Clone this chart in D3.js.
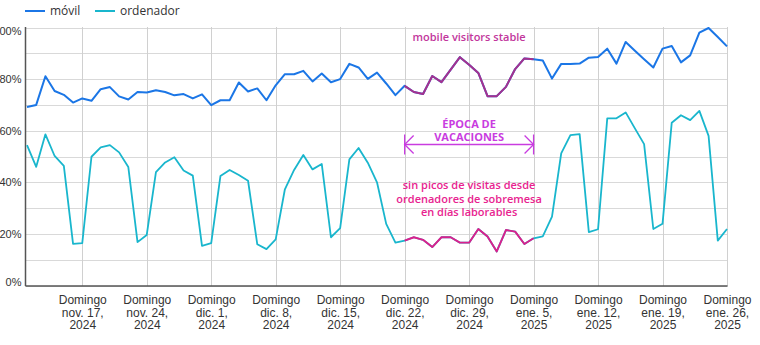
<!DOCTYPE html>
<html>
<head>
<meta charset="utf-8">
<script src="https://cdn.jsdelivr.net/npm/d3@7/dist/d3.min.js"></script>
<style>
  html, body { margin: 0; padding: 0; background: #fff; }
  svg { display: block; font-family: "Open Sans", "Noto Sans", sans-serif; }
</style>
</head>
<body>
<svg id="chart" width="760" height="345"></svg>
<script>
// Daily share of visits by device, Nov 11 2024 – Jan 26 2025
const startDay = new Date(2024, 10, 11);
const movil = [
  69.2, 70.0, 81.1, 75.4, 73.9, 70.9, 72.5, 71.6, 76.1, 76.9,
  73.3, 72.1, 75.0, 74.8, 75.7, 75.0, 73.7, 74.2, 72.5, 74.1,
  69.9, 71.8, 71.8, 78.7, 75.2, 76.4, 71.8, 77.6, 81.9, 81.9,
  83.2, 79.1, 82.2, 78.8, 80.0, 85.9, 84.5, 80.1, 82.5, 78.3,
  73.8, 77.4, 75.0, 74.2, 81.2, 78.8, 83.7, 88.5, 85.6, 82.4,
  73.4, 73.4, 77.0, 83.9, 88.0, 87.7, 87.2, 80.2, 85.9, 85.9,
  86.0, 88.3, 88.6, 91.8, 86.0, 94.4, 91.0, 87.7, 84.5, 91.8,
  92.8, 86.5, 89.2, 98.0, 99.8, 96.3, 92.7
];
const ordenador = [
  54.4, 46.0, 58.6, 50.2, 46.4, 16.1, 16.4, 49.9, 53.5, 54.4,
  51.6, 45.9, 16.8, 19.6, 43.9, 47.7, 49.7, 44.6, 42.6, 15.4,
  16.4, 42.4, 44.8, 42.8, 40.6, 16.0, 14.1, 17.9, 37.3, 44.8,
  50.6, 45.0, 47.1, 18.7, 22.2, 48.9, 53.3, 47.6, 40.0, 23.9,
  16.6, 17.4, 18.7, 17.7, 14.9, 18.7, 18.7, 16.6, 16.6, 21.9,
  19.0, 13.2, 21.5, 20.9, 16.1, 18.3, 19.0, 26.7, 51.2, 58.3,
  58.7, 20.7, 21.8, 64.8, 64.8, 67.1, 60.9, 54.8, 21.9, 23.9,
  63.1, 66.0, 64.1, 67.7, 58.0, 17.4, 21.9
];
const dates = movil.map((_, i) => d3.timeDay.offset(startDay, i));

// Sunday ticks and their three-line labels
const tickDates = [
  new Date(2024, 10, 17), new Date(2024, 10, 24), new Date(2024, 11, 1),
  new Date(2024, 11, 8), new Date(2024, 11, 15), new Date(2024, 11, 22),
  new Date(2024, 11, 29), new Date(2025, 0, 5), new Date(2025, 0, 12),
  new Date(2025, 0, 19), new Date(2025, 0, 26)
];
const tickLabels = [
  ["Domingo", "nov. 17,", "2024"], ["Domingo", "nov. 24,", "2024"],
  ["Domingo", "dic. 1,", "2024"], ["Domingo", "dic. 8,", "2024"],
  ["Domingo", "dic. 15,", "2024"], ["Domingo", "dic. 22,", "2024"],
  ["Domingo", "dic. 29,", "2024"], ["Domingo", "ene. 5,", "2025"],
  ["Domingo", "ene. 12,", "2025"], ["Domingo", "ene. 19,", "2025"],
  ["Domingo", "ene. 26,", "2025"]
];
const yTicks = [0, 20, 40, 60, 80, 100];
const yGrid = [0, 10, 20, 30, 40, 50, 60, 70, 80, 90, 100];

// Holiday window highlighted on both series
const holidayStart = new Date(2024, 11, 22);
const holidayEnd = new Date(2025, 0, 5);

const seriesNames = ["móvil", "ordenador"];
const colors = {
  movil: "#1b76e6",
  ordenador: "#19b6cd",
  movilHi: "#a6318e",
  ordenadorHi: "#dc1f8c",
  movilNote: "#c2369c",
  ordenadorNote: "#e8238f",
  holiday: "#c93ce0"
};

const svg = d3.select("#chart");
const plot = { left: 25.5, right: 727.5, top: 27, bottom: 286 };

const x = d3.scaleTime()
  .domain([startDay, dates[dates.length - 1]])
  .range([27, 727]);
const y = d3.scaleLinear().domain([0, 100]).range([285.5, 27.5]);

// grid
const grid = svg.append("g");
grid.selectAll("line.h").data(yGrid).join("line")
  .attr("x1", plot.left).attr("x2", plot.right)
  .attr("y1", d => Math.round(y(d)) + 0.5).attr("y2", d => Math.round(y(d)) + 0.5)
  .attr("stroke", "#d9d9d9").attr("stroke-width", 1);
grid.selectAll("line.v").data(tickDates).join("line")
  .attr("x1", d => Math.round(x(d)) + 0.5).attr("x2", d => Math.round(x(d)) + 0.5)
  .attr("y1", plot.top).attr("y2", plot.bottom)
  .attr("stroke", "#d0d0d0").attr("stroke-width", 1);

// axes
const xAxis = d3.axisBottom(x).tickValues(tickDates).tickSize(0).tickFormat(() => "");
const gx = svg.append("g").attr("transform", `translate(0,${plot.bottom})`).call(xAxis);
gx.select(".domain").attr("stroke", "#555").attr("stroke-width", 1.5)
  .attr("d", `M${plot.left},0H${plot.right}`);
gx.selectAll(".tick").each(function (d, i) {
  const t = d3.select(this).select("text")
    .attr("y", 0).attr("dy", null)
    .attr("fill", "#333").attr("font-size", 12).attr("text-anchor", "middle");
  t.text(null);
  tickLabels[i].forEach((line, k) => {
    t.append("tspan").attr("x", 0).attr("y", 18 + k * 12.6).text(line);
  });
});

const yAxis = d3.axisLeft(y).tickValues(yTicks).tickSize(0).tickFormat(d => d + "%");
const gy = svg.append("g").attr("transform", `translate(${plot.left},0)`).call(yAxis);
gy.select(".domain").attr("stroke", "#555").attr("stroke-width", 1.5)
  .attr("d", `M0,${plot.top}V${plot.bottom}`);
gy.selectAll(".tick").each(function (d) {
  const ty = y(d);
  const clamped = Math.max(plot.top + 4, Math.min(plot.bottom - 4, ty));
  d3.select(this).select("text")
    .attr("x", -4).attr("y", clamped - ty)
    .attr("fill", "#333").attr("font-size", 11);
});

// lines
const line = d3.line().x(d => x(d.date)).y(d => y(d.v));
const toPts = arr => arr.map((v, i) => ({ date: dates[i], v }));
const inHoliday = p => p.date >= holidayStart && p.date <= holidayEnd;

const movilPts = toPts(movil);
const ordPts = toPts(ordenador);

svg.append("path").datum(ordPts)
  .attr("d", line).attr("fill", "none")
  .attr("stroke", colors.ordenador).attr("stroke-width", 1.8)
  .attr("stroke-linejoin", "round");
svg.append("path").datum(ordPts.filter(inHoliday))
  .attr("d", line).attr("fill", "none")
  .attr("stroke", colors.ordenadorHi).attr("stroke-width", 1.9)
  .attr("stroke-linejoin", "round");

svg.append("path").datum(movilPts)
  .attr("d", line).attr("fill", "none")
  .attr("stroke", colors.movil).attr("stroke-width", 2)
  .attr("stroke-linejoin", "round");
svg.append("path").datum(movilPts.filter(inHoliday))
  .attr("d", line).attr("fill", "none")
  .attr("stroke", colors.movilHi).attr("stroke-width", 2)
  .attr("stroke-linejoin", "round");

// legend
const legend = svg.append("g").attr("font-size", 12).attr("fill", "#333");
const legendItems = [
  { name: seriesNames[0], color: colors.movil, x0: 25 },
  { name: seriesNames[1], color: colors.ordenador, x0: 95 }
];
legendItems.forEach(it => {
  legend.append("line").attr("x1", it.x0).attr("x2", it.x0 + 20)
    .attr("y1", 11).attr("y2", 11).attr("stroke", it.color).attr("stroke-width", 2);
  legend.append("text").attr("x", it.x0 + 25).attr("y", 15).text(it.name);
});

// annotations
const midHoliday = (x(holidayStart) + x(holidayEnd)) / 2;
svg.append("text").attr("x", midHoliday).attr("y", 41)
  .attr("text-anchor", "middle").attr("font-size", 11).attr("font-weight", 600)
  .attr("fill", colors.movilNote).text("mobile visitors stable");

const hol = svg.append("g").attr("fill", colors.holiday)
  .attr("text-anchor", "middle").attr("font-size", 11).attr("font-weight", 700);
hol.append("text").attr("x", midHoliday).attr("y", 128).text("ÉPOCA DE");
hol.append("text").attr("x", midHoliday).attr("y", 141).text("VACACIONES");
const ax0 = x(holidayStart), ax1 = x(holidayEnd), ay = 144.5;
const arrow = svg.append("g").attr("stroke", colors.holiday).attr("stroke-width", 1.3).attr("fill", "none");
arrow.append("line").attr("x1", ax0).attr("x2", ax1).attr("y1", ay).attr("y2", ay);
arrow.append("line").attr("x1", ax0).attr("x2", ax0).attr("y1", ay - 10).attr("y2", ay + 10);
arrow.append("line").attr("x1", ax1).attr("x2", ax1).attr("y1", ay - 10).attr("y2", ay + 10);
arrow.append("path").attr("d", `M${ax0 + 9},${ay - 9}L${ax0},${ay}L${ax0 + 9},${ay + 9}`);
arrow.append("path").attr("d", `M${ax1 - 9},${ay - 9}L${ax1},${ay}L${ax1 - 9},${ay + 9}`);

const note = svg.append("g").attr("fill", colors.ordenadorNote)
  .attr("font-size", 11).attr("font-weight", 600).attr("text-anchor", "middle");
["sin picos de visitas desde", "ordenadores de sobremesa", "en días laborables"].forEach((t, k) => {
  note.append("text").attr("x", midHoliday).attr("y", 189 + k * 13.5).text(t);
});
</script>
</body>
</html>
